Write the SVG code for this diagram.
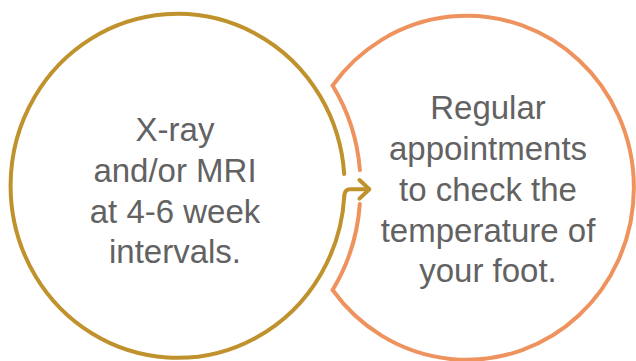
<svg xmlns="http://www.w3.org/2000/svg" width="636" height="361" viewBox="0 0 636 361">
<style>
.gold{fill:none;stroke:#C0922D;stroke-width:4;stroke-linecap:round;stroke-linejoin:round}
.orange{fill:none;stroke:#EE925E;stroke-width:4;stroke-linecap:round;stroke-linejoin:miter}
.lbl{font-family:"Liberation Sans",Arial,sans-serif;font-size:33px;fill:#626262;text-anchor:middle}
</style>
<rect width="636" height="361" fill="#ffffff"/>
<g id="node-xray">
<path class="gold" d="M344.2,174 A167,172 0 1 0 344.3,196"/>
<text class="lbl" x="175" y="141">X-ray</text>
<text class="lbl" x="175" y="182">and/or MRI</text>
<text class="lbl" x="175" y="223">at 4-6 week</text>
<text class="lbl" x="175" y="263">intervals.</text>
</g>
<g id="node-appointments">
<path class="orange" d="M359.9,170 A183,188 0 0 0 332.6,85.5 A167,172 0 1 1 332.6,290 A183,188 0 0 0 359.8,204"/>
<text class="lbl" x="488" y="119">Regular</text>
<text class="lbl" x="488" y="160">appointments</text>
<text class="lbl" x="488" y="201">to check the</text>
<text class="lbl" x="488" y="242">temperature of</text>
<text class="lbl" x="488" y="282">your foot.</text>
</g>
<g id="connectors">
<path class="gold" d="M344.3,196 Q344.6,189.3 350,189.3 L369,189.3"/>
<path class="gold" d="M359.5,180 L369.3,189.3 L359.5,198.6"/>
</g>
</svg>
